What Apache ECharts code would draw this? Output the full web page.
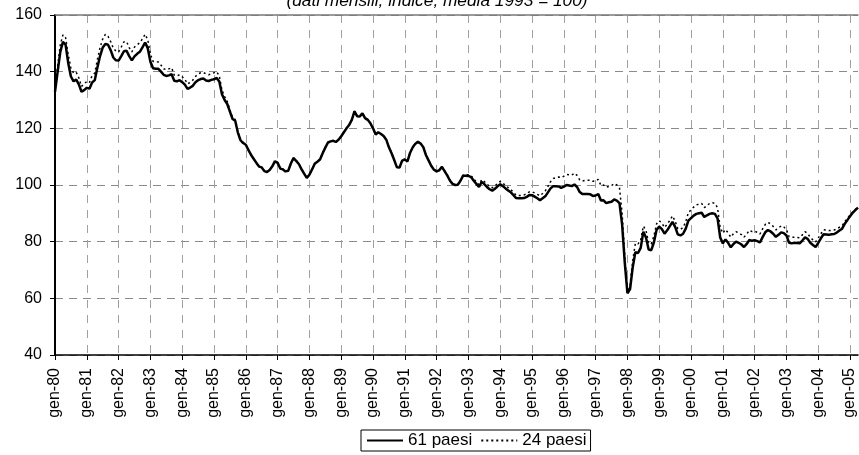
<!DOCTYPE html>
<html>
<head>
<meta charset="utf-8">
<script src="https://cdn.jsdelivr.net/npm/echarts@6/dist/echarts.min.js"></script>
<style>html,body{margin:0;padding:0;background:#fff;}#c{width:859px;height:455px;}</style>
</head>
<body>
<div id="c"></div>
<script>
var monthNames = ['gen','feb','mar','apr','mag','giu','lug','ago','set','ott','nov','dic'];
var yearLabels = ['80','81','82','83','84','85','86','87','88','89','90','91','92','93','94','95','96','97','98','99','00','01','02','03','04','05'];
var lastMonthCount2005 = 4;

var paesi61 = [
132.9,140,147,150.5,149.5,143,138.3,136.6,137.2,135.5,132.9,133.5,
134.3,134,136.2,137,141.5,145.5,148.5,149.8,149.5,147.6,145,144,
143.9,145.5,147.2,147.4,145.5,144,145.4,146.3,147,148.6,150.3,148.3,
143.5,141.2,141,141,140,138.9,138.5,138.7,139.1,136.8,136.6,137,
136.3,135.4,133.9,134.4,135,136.3,137,137.4,137.6,136.9,136.7,137.1,
137.3,137.8,136.5,132,130,128.6,125.9,123.3,122.7,118.5,115.8,114.8,
114.2,112.3,110.6,109.2,107.8,106.5,106.2,104.9,104.6,105.3,106.6,108.4,
107.8,105.8,105.5,104.8,105,107.6,109.5,108.5,107.4,105.6,104,102.5,
103.6,105.5,107.5,108.2,109,111.2,113.2,115,115.4,115.6,115.2,116,
117.2,118.6,120,121.2,123,126,124.3,124.2,125.3,123.6,123,121.8,
120,117.8,118.6,118,117.3,116,113.3,111.2,108.8,106.3,106.2,108.6,
109,108.3,111.4,113.3,114.6,115.3,114.6,113.3,110.5,108.6,106.7,105.4,
104.8,105.2,106.4,104.9,103.4,101.6,100.4,100,100.1,101.5,103.3,103.3,
103.2,102.8,101.5,100.4,99.3,101.1,100.3,99.3,98.5,98,98.7,99.5,
100.3,99.6,98.8,98.1,97.4,96.4,95.4,95.3,95.3,95.4,95.8,96.5,
96.4,95.9,95.3,94.6,95.3,96,97.4,98.8,99.6,99.6,99.5,99,
99.4,100,99.8,99.6,100.2,99.3,97.5,96.8,96.8,96.8,96.7,96.1,
96.3,96.8,94.5,94.6,93.6,93.9,94.1,94.9,94.5,93.6,86,72.5,
61.8,63.3,71,76.3,76,77.8,83.5,81.5,77.2,77,79.8,84.2,
85.3,84.4,82.8,84,85.5,87,85.2,82.6,82.2,82.8,84.6,87.4,
88.3,89.2,89.8,90,90.2,88.7,89.3,89.8,90,89.8,88.2,81.5,
79.4,80.8,79.6,78,79.2,80,79.6,79,78.1,79.2,80.6,80.3,
80.5,80.2,79.7,81.6,83.3,84.1,83.6,82.8,81.7,82.4,83.3,83,
82.2,79.6,79.4,79.6,79.5,79.4,80.4,81.5,81,79.6,78.8,78.1,
79.6,81.2,82.6,82.5,82.4,82.6,82.7,83.2,83.9,84.6,86.3,87.6,
89,90.2,91.1,92
];

var paesi24 = [
133.2,142,149.5,153,152,146,141.3,139.5,139.8,137.8,134.8,135.6,
136.6,136.2,138.6,139.5,144.3,148.5,151.5,153.2,152.5,150.6,148.3,147.2,
147,148.7,150.5,150.6,148.5,147,148.7,149.5,150.2,151.6,153.2,151.2,
146.2,143.6,143.5,143.4,142.3,141,140.7,141,141.4,138.8,138.5,138.9,
138.2,137.3,135.7,136.2,137,138.3,139.2,139.6,139.7,139.2,138.9,139.3,
139.6,140,138.5,133.5,131.2,129.5,126.5,123.8,123.1,118.8,116,115,
114.3,112.4,110.7,109.3,107.9,106.6,106.3,105,104.7,105.4,106.7,108.5,
107.9,105.9,105.6,104.9,105.1,107.7,109.6,108.6,107.5,105.7,104.1,102.6,
103.7,105.6,107.6,108.3,109.1,111.3,113.3,115.1,115.5,115.7,115.3,116.1,
117.3,118.7,120.1,121.3,123.1,126.1,124.4,124.3,125.4,123.7,123.1,121.9,
120.1,117.9,118.7,118.1,117.4,116.1,113.4,111.3,108.9,106.4,106.3,108.7,
109.1,108.4,111.5,113.4,114.7,115.4,114.7,113.4,110.6,108.7,106.8,105.5,
104.9,105.3,106.5,105,103.5,101.7,100.5,100.1,100.2,101.7,103.5,103.6,
103.6,103.3,102.1,101.1,100.1,101.9,101.2,100.3,99.5,99,99.7,100.5,
101.3,100.6,99.8,99.1,98.4,97.4,96.4,96.3,96.3,96.5,96.9,97.6,
97.6,97.2,96.7,96.2,97,97.9,99.5,101.2,102.3,102.6,102.8,102.6,
103.1,103.7,103.6,103.5,104.2,103.4,101.8,101.4,101.6,101.7,101.7,101.3,
101.5,102,99.8,100,99.2,99.5,99.8,100.5,100,99,90,75,
62.5,64.8,73.5,79.4,79.2,80.5,85.5,84,79.5,79.2,82,86.3,
87.4,86.6,85,86.2,87.5,89.1,87.2,84.6,84.3,85,87,90.3,
91.2,92.2,93,93.2,93.5,92,92.7,93.5,93.8,93.5,92,85,
83,84.3,83.1,81.6,82.8,83.5,83.1,82.5,81.6,82.7,84,83.6,
83.7,83.3,82.7,84.5,86.1,86.8,86.3,85.4,84.2,84.8,85.6,85.2,
84.3,81.7,81.5,81.6,81.5,81.4,82.4,83.5,82.9,81.5,80.6,79.9,
81.3,82.8,84.2,84.1,83.9,84,84.1,84.5,85.1,85.6,87.1,88.2,
89.4,90.5,91.4,92.2
];

var categories = [];
yearLabels.forEach(function (y, yi) {
  var n = (yi === yearLabels.length - 1) ? lastMonthCount2005 : 12;
  for (var m = 0; m < n; m++) categories.push(monthNames[m] + '-' + y);
});

var FONT = 'Liberation Sans, Arial, sans-serif';
var isJan = function (idx) { return idx % 12 === 0; };

var chart = echarts.init(document.getElementById('c'), null, {renderer: 'canvas'});
chart.setOption({
  animation: false,
  backgroundColor: '#fff',
  textStyle: {fontFamily: FONT},
  graphic: [{
    type: 'text',
    x: 437, y: 1,
    z: 100,
    style: {
      text: '(dati mensili; indice; media 1993 = 100)',
      font: 'italic 17.3px ' + FONT,
      fill: '#000',
      align: 'center',
      verticalAlign: 'middle'
    }
  }],
  grid: {left: 55, right: 1, top: 15, bottom: 100, containLabel: false},
  legend: {
    data: ['61 paesi', '24 paesi'],
    left: 361, top: 430,
    padding: [2, 4, 2, 5],
    borderColor: '#000', borderWidth: 1,
    itemWidth: 36, itemHeight: 14, itemGap: 8,
    itemStyle: {opacity: 0},
    textStyle: {fontSize: 17, color: '#000', fontFamily: FONT}
  },
  xAxis: [{
    type: 'category',
    data: categories,
    boundaryGap: false,
    axisLine: {lineStyle: {color: '#000', width: 1.5}},
    axisTick: {show: true, interval: function (i) { return isJan(i); }, length: 5, lineStyle: {color: '#000'}},
    axisLabel: {interval: function (i) { return isJan(i); }, rotate: 90, margin: 13, fontSize: 16, color: '#000', fontFamily: FONT},
    splitLine: {show: true, interval: function (i) { return isJan(i) && i > 0; }, lineStyle: {color: '#a0a0a0', width: 1, type: [8, 7]}}
  }, {
    type: 'category',
    data: categories,
    boundaryGap: false,
    position: 'top',
    axisLine: {lineStyle: {color: '#7a7a7a', width: 1.5}},
    axisTick: {show: false},
    axisLabel: {show: false},
    splitLine: {show: false}
  }],
  yAxis: {
    type: 'value',
    min: 40, max: 160, interval: 20,
    axisLine: {show: true, lineStyle: {color: '#000', width: 2}},
    axisTick: {show: true, length: 5, lineStyle: {color: '#000'}},
    axisLabel: {margin: 13, fontSize: 16, color: '#000', fontFamily: FONT},
    splitLine: {show: true, lineStyle: {color: '#8a8a8a', width: 1, type: [8, 6]}}
  },
  series: [{
    name: '24 paesi',
    type: 'line',
    data: paesi24,
    symbol: 'none',
    lineStyle: {color: '#000', width: 1.5, type: [2, 3]},
    itemStyle: {color: '#000'},
    z: 2
  }, {
    name: '61 paesi',
    type: 'line',
    data: paesi61,
    symbol: 'none',
    lineStyle: {color: '#000', width: 2.5},
    itemStyle: {color: '#000'},
    z: 3
  }]
});
</script>
</body>
</html>
